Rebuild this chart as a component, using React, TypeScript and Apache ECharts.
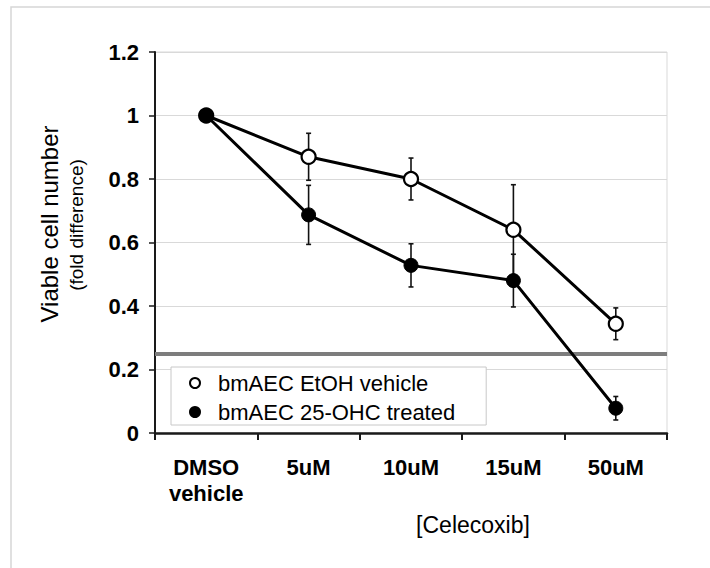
import React, { useEffect, useRef } from "react";
import * as echarts from "echarts";

const categories = ["DMSO\nvehicle", "5uM", "10uM", "15uM", "50uM"];
const vehicleName = "bmAEC EtOH vehicle";
const treatedName = "bmAEC 25-OHC treated";
const vehicleValues = [1, 0.87, 0.8, 0.64, 0.344];
const vehicleErrors = [0, 0.074, 0.066, 0.142, 0.05];
const treatedValues = [1, 0.687, 0.528, 0.48, 0.078];
const treatedErrors = [0, 0.093, 0.068, 0.083, 0.037];
const thresholdValue = 0.254;
const yTicks = { min: 0, max: 1.2, interval: 0.2 };

const FONT = "'Liberation Sans', Arial, Helvetica, sans-serif";

function errorSeries(values: number[], errors: number[]) {
  const data = values.map((v, i) => [i, v - errors[i], v + errors[i], errors[i]]);
  return {
    type: "custom",
    z: 1,
    silent: true,
    data,
    renderItem: (params: any, api: any) => {
      const err = api.value(3);
      if (!err) return { type: "group", children: [] };
      const x = api.value(0);
      const lo = api.coord([x, api.value(1)]);
      const hi = api.coord([x, api.value(2)]);
      const cap = 2.5;
      const style = { stroke: "#111", lineWidth: 1.6 };
      return {
        type: "group",
        children: [
          { type: "line", shape: { x1: lo[0], y1: lo[1], x2: hi[0], y2: hi[1] }, style },
          { type: "line", shape: { x1: lo[0] - cap, y1: lo[1], x2: lo[0] + cap, y2: lo[1] }, style },
          { type: "line", shape: { x1: hi[0] - cap, y1: hi[1], x2: hi[0] + cap, y2: hi[1] }, style },
        ],
      };
    },
  };
}

export default function App() {
  const ref = useRef<HTMLDivElement>(null);
  useEffect(() => {
    if (!ref.current) return;
    const chart = echarts.init(ref.current, null, { renderer: "svg" });
    chart.setOption({
      animation: false,
      backgroundColor: "#fff",
      textStyle: { fontFamily: FONT },
      grid: {
        left: 155,
        top: 52,
        right: 43,
        bottom: 135,
        show: true,
        borderColor: "#d9d9d9",
        borderWidth: 1,
        containLabel: false,
      },
      legend: {
        left: 171,
        top: 367,
        orient: "vertical",
        backgroundColor: "#fff",
        borderColor: "#c8c8c8",
        borderWidth: 1,
        padding: [5, 31, 2, 18],
        itemGap: 7,
        itemWidth: 36,
        itemHeight: 10,
        textStyle: { fontSize: 22, color: "#000", fontFamily: FONT },
        data: [
          { name: vehicleName, icon: "circle" },
          { name: treatedName, icon: "circle" },
        ],
        z: 10,
      },
      xAxis: {
        type: "category",
        data: categories,
        boundaryGap: true,
        axisLine: { lineStyle: { color: "#1a1a1a", width: 2.5 } },
        axisTick: { show: true, length: 7, lineStyle: { color: "#1a1a1a", width: 2 } },
        axisLabel: {
          color: "#000",
          fontWeight: "bold",
          fontSize: 22,
          lineHeight: 26,
          margin: 21,
          fontFamily: FONT,
        },
        splitLine: { show: false },
      },
      yAxis: {
        type: "value",
        min: yTicks.min,
        max: yTicks.max,
        interval: yTicks.interval,
        axisLine: { show: true, lineStyle: { color: "#1a1a1a", width: 2 } },
        axisTick: { show: true, length: 6, lineStyle: { color: "#1a1a1a", width: 1.5 } },
        axisLabel: {
          color: "#000",
          fontWeight: "bold",
          fontSize: 22,
          margin: 16,
          fontFamily: FONT,
        },
        splitLine: { show: true, lineStyle: { color: "#d9d9d9", width: 1 } },
      },
      graphic: [
        {
          type: "rect",
          silent: true,
          shape: { x: 11, y: 7, width: 760, height: 620 },
          style: { fill: "none", stroke: "#d6d6d6", lineWidth: 1.5 },
          z: 0,
        },
        {
          type: "text",
          x: 49,
          y: 224,
          rotation: Math.PI / 2,
          style: {
            text: "Viable cell number",
            fontSize: 24,
            fontFamily: FONT,
            fill: "#000",
            align: "center",
            verticalAlign: "middle",
          },
        },
        {
          type: "text",
          x: 76,
          y: 225,
          rotation: Math.PI / 2,
          style: {
            text: "(fold difference)",
            fontSize: 19,
            fontFamily: FONT,
            fill: "#000",
            align: "center",
            verticalAlign: "middle",
          },
        },
        {
          type: "text",
          x: 473,
          y: 525,
          style: {
            text: "[Celecoxib]",
            fontSize: 23,
            fontFamily: FONT,
            fill: "#000",
            align: "center",
            verticalAlign: "middle",
          },
        },
      ],
      series: [
        errorSeries(vehicleValues, vehicleErrors),
        errorSeries(treatedValues, treatedErrors),
        {
          name: vehicleName,
          type: "line",
          z: 3,
          data: vehicleValues,
          symbol: "circle",
          symbolSize: 14,
          lineStyle: { color: "#000", width: 3 },
          itemStyle: { color: "#fff", borderColor: "#000", borderWidth: 2.2 },
          markLine: {
            silent: true,
            symbol: ["none", "none"],
            label: { show: false },
            lineStyle: { color: "#7d7d7d", width: 4, type: "solid" },
            data: [{ yAxis: thresholdValue }],
            z: 2,
          },
        },
        {
          name: treatedName,
          type: "line",
          z: 4,
          data: treatedValues,
          symbol: "circle",
          symbolSize: 14,
          lineStyle: { color: "#000", width: 3 },
          itemStyle: { color: "#000", borderColor: "#000", borderWidth: 1 },
        },
      ],
    });
    return () => chart.dispose();
  }, []);
  return (
    <div
      ref={ref}
      style={{ position: "fixed", left: 0, top: 0, width: 710, height: 568 }}
    />
  );
}
